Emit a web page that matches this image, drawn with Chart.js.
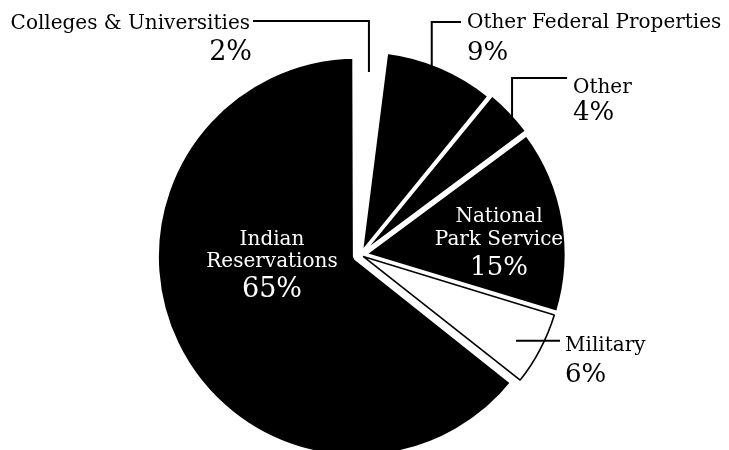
<!DOCTYPE html>
<html><head><meta charset="utf-8">
<script src="https://cdn.jsdelivr.net/npm/chart.js@4/dist/chart.umd.min.js"></script>
<style>html,body{margin:0;padding:0;background:#fff}canvas{display:block}</style>
</head><body>
<canvas id="c" width="729" height="450"></canvas>
<script>
// ---- data (clockwise, starting with the large slice) ----
const categories = ['Indian Reservations', 'Colleges & Universities', 'Other Federal Properties', 'Other', 'National Park Service', 'Military'];
const shares = [65, 2, 9, 4, 15, 6];
const percentLabels = ['65%', '2%', '9%', '4%', '15%', '6%'];
const nameLines = [['Indian', 'Reservations'], ['Colleges & Universities'], ['Other Federal Properties'], ['Other'], ['National', 'Park Service'], ['Military']];

// ---- styles ----
const fills = ['#000000', '#ffffff', '#000000', '#000000', '#000000', '#ffffff'];
const borders = ['#ffffff', '#ffffff', '#ffffff', '#ffffff', '#ffffff', '#000000'];
const borderWidths = [8, 2, 2, 2, 2, 1.6];
const offsets = [16, 0, 16, 20, 24, 12];

// the first slice ends at 12 o'clock
const total = shares.reduce((a, b) => a + b, 0);
const startRotation = (total - shares[0]) / total * 360;

// ---- label layout ----
const FONT = '"DejaVu Serif", "Liberation Serif", serif';
const layout = [
  { kind: 'in', cx: 272, lineYs: [245, 267], pctY: 297, pctSize: 27 },
  { kind: 'out', frac: 0.37, rFrac: 0.925, elbowY: 21, endX: 253, align: 'right', textX: 250, nameY: 29, pctX: 252, pctY: 60, pctSize: 27 },
  { kind: 'out', frac: 0.42, rFrac: 1.0, elbowY: 22, endX: 461, align: 'left', textX: 467, nameY: 28, pctX: 467, pctY: 60, pctSize: 26 },
  { kind: 'out', frac: 0.72, rFrac: 0.983, elbowY: 78, endX: 567, align: 'left', textX: 573, nameY: 93, pctX: 573, pctY: 120, pctSize: 26 },
  { kind: 'in', cx: 499, lineYs: [222, 245], pctY: 275, pctSize: 26 },
  { kind: 'out', frac: 0.56, rFrac: 0.882, elbowY: null, endX: 560, align: 'left', textX: 565, nameY: 351, pctX: 565, pctY: 382, pctSize: 26 }
];

const labelPlugin = {
  id: 'pieLabels',
  afterDatasetsDraw(chart) {
    const ctx = chart.ctx;
    const meta = chart.getDatasetMeta(0);
    ctx.save();
    meta.data.forEach((arc, i) => {
      const L = layout[i];
      if (L.kind === 'out') {
        const p = arc.getProps(['x', 'y', 'startAngle', 'endAngle', 'outerRadius'], true);
        const t = (arc.options.offset || 0) / 4;
        const mid = (p.startAngle + p.endAngle) / 2;
        const cx = p.x + Math.cos(mid) * t, cy = p.y + Math.sin(mid) * t;
        const a = p.startAngle + L.frac * (p.endAngle - p.startAngle);
        const r = L.rFrac * p.outerRadius;
        const ax = cx + Math.cos(a) * r, ay = cy + Math.sin(a) * r;
        ctx.strokeStyle = '#000';
        ctx.lineWidth = 2;
        ctx.beginPath();
        ctx.moveTo(ax, ay);
        if (L.elbowY !== null) { ctx.lineTo(ax, L.elbowY); ctx.lineTo(L.endX, L.elbowY); }
        else { ctx.lineTo(L.endX, ay); }
        ctx.stroke();
        ctx.fillStyle = '#000';
        ctx.textBaseline = 'alphabetic';
        ctx.textAlign = L.align;
        ctx.font = '20px ' + FONT;
        ctx.fillText(nameLines[i][0], L.textX, L.nameY);
        ctx.font = L.pctSize + 'px ' + FONT;
        ctx.fillText(percentLabels[i], L.pctX, L.pctY);
      } else {
        ctx.fillStyle = '#fff';
        ctx.textBaseline = 'alphabetic';
        ctx.textAlign = 'center';
        ctx.font = '20px ' + FONT;
        nameLines[i].forEach((s, k) => ctx.fillText(s, L.cx, L.lineYs[k]));
        ctx.font = L.pctSize + 'px ' + FONT;
        ctx.fillText(percentLabels[i], L.cx, L.pctY);
      }
    });
    ctx.restore();
  }
};

new Chart(document.getElementById('c'), {
  type: 'pie',
  data: {
    labels: categories,
    datasets: [{
      data: shares,
      backgroundColor: fills,
      borderColor: borders,
      borderWidth: borderWidths,
      offset: offsets,
      hoverOffset: 0,
      radius: 198,
      rotation: startRotation
    }]
  },
  options: {
    responsive: false,
    animation: false,
    events: [],
    layout: { padding: { left: 0, right: 8, top: 60, bottom: 0 } },
    plugins: { legend: { display: false }, tooltip: { enabled: false } }
  },
  plugins: [labelPlugin]
});
</script>
</body></html>
